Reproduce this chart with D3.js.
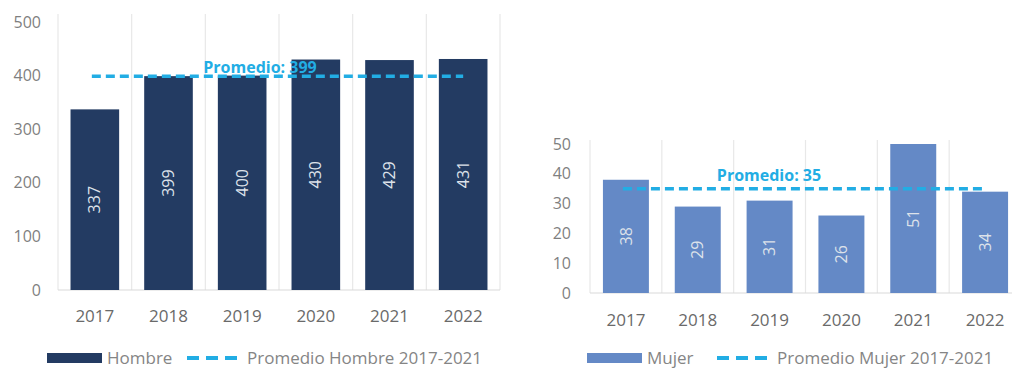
<!DOCTYPE html>
<html>
<head>
<meta charset="utf-8">
<script src="https://cdn.jsdelivr.net/npm/d3@7"></script>
<style>
  html, body { margin: 0; padding: 0; background: #fff; }
  svg { display: block; font-family: "Open Sans", sans-serif; }
</style>
</head>
<body>
<svg id="chart" width="1012" height="370"></svg>
<script>
const years = ["2017", "2018", "2019", "2020", "2021", "2022"];
const hombre = [337, 399, 400, 430, 429, 431];
const mujer = [38, 29, 31, 26, 51, 34];
const promHombre = 399;
const promMujer = 35;
const hombreTicks = [0, 100, 200, 300, 400, 500];
const mujerTicks = [0, 10, 20, 30, 40, 50];
const legendHombre = ["Hombre", "Promedio Hombre 2017-2021"];
const legendMujer = ["Mujer", "Promedio Mujer 2017-2021"];

const svg = d3.select("#chart");
const cyan = "#22ade4";
const gridCol = "#e8e8e8";
const tickCol = "#7f7f7f";

function drawPanel(cfg) {
  const g = svg.append("g");
  const x = d3.scaleBand().domain(years).range(cfg.xr).paddingInner(cfg.pad).paddingOuter(cfg.pad / 2);
  const y = d3.scaleLinear().domain(cfg.yd).range(cfg.yr).clamp(true);
  const step = x.step();
  const left = cfg.xr[0];

  // vertical gridlines at category boundaries
  g.selectAll(".vg").data(d3.range(years.length + 1)).join("line")
    .attr("x1", i => left + i * step).attr("x2", i => left + i * step)
    .attr("y1", cfg.gridTop).attr("y2", y(0))
    .attr("stroke", gridCol).attr("stroke-width", 1.2);
  // baseline
  g.append("line").attr("x1", left).attr("x2", cfg.xr[1]).attr("y1", y(0)).attr("y2", y(0))
    .attr("stroke", "#d9d9d9").attr("stroke-width", 1.2);

  // y tick labels
  g.selectAll(".yt").data(cfg.ticks).join("text")
    .attr("x", cfg.ytx).attr("y", d => y(d)).attr("dy", "0.35em")
    .attr("text-anchor", "end").attr("font-size", 16).attr("fill", tickCol)
    .text(d => d);

  // bars
  g.selectAll(".bar").data(cfg.values).join("rect")
    .attr("x", (d, i) => x(years[i])).attr("width", x.bandwidth())
    .attr("y", d => y(d)).attr("height", d => y(0) - y(d))
    .attr("fill", cfg.color);

  // bar labels rotated
  g.selectAll(".bl").data(cfg.values).join("text")
    .attr("transform", (d, i) => `translate(${x(years[i]) + x.bandwidth() / 2},${(y(d) + y(0)) / 2}) rotate(-90)`)
    .attr("text-anchor", "middle").attr("dy", "0.35em")
    .attr("font-size", 16).attr("fill", "#dde2ea")
    .text(d => d);

  // x labels
  g.selectAll(".xl").data(years).join("text")
    .attr("x", d => x(d) + x.bandwidth() / 2).attr("y", cfg.xly)
    .attr("text-anchor", "middle").attr("font-size", 17).attr("fill", "#6a6a6a")
    .text(d => d);

  // average dashed line
  const c0 = x(years[0]) + x.bandwidth() / 2;
  const c1 = x(years[years.length - 1]) + x.bandwidth() / 2;
  g.append("line").attr("x1", c0 - 3).attr("x2", c1)
    .attr("y1", y(cfg.avg)).attr("y2", y(cfg.avg))
    .attr("stroke", cyan).attr("stroke-width", 3.5).attr("stroke-dasharray", "9,5");
  g.append("text").attr("x", cfg.avgLabelX).attr("y", y(cfg.avg) - cfg.avgLabelDy)
    .attr("text-anchor", "middle").attr("font-size", 16).attr("font-weight", "bold")
    .attr("fill", cyan).text("Promedio: " + cfg.avg);

  // legend
  const lg = svg.append("g");
  const ly = cfg.legendY;
  lg.append("rect").attr("x", cfg.legX).attr("y", ly - 5).attr("width", 55).attr("height", 10).attr("fill", cfg.color);
  lg.append("text").attr("x", cfg.legX + 60).attr("y", ly).attr("dy", "0.35em")
    .attr("font-size", 17).attr("fill", "#858585").text(cfg.legend[0]);
  lg.append("line").attr("x1", cfg.legDashX).attr("x2", cfg.legDashX + 50).attr("y1", ly).attr("y2", ly)
    .attr("stroke", cyan).attr("stroke-width", 4).attr("stroke-dasharray", "12,7");
  lg.append("text").attr("x", cfg.legDashX + 60).attr("y", ly).attr("dy", "0.35em")
    .attr("font-size", 17).attr("fill", "#858585").text(cfg.legend[1]);
}

drawPanel({
  xr: [58, 500], pad: 0.34, yd: [0, 500], yr: [290, 22], gridTop: 14,
  ticks: hombreTicks, ytx: 41, values: hombre, color: "#233b62",
  xly: 322, avg: promHombre, avgLabelX: 260, avgLabelDy: 3,
  legendY: 358, legX: 47, legDashX: 187, legend: legendHombre
});

drawPanel({
  xr: [590, 1021], pad: 0.36, yd: [0, 50], yr: [293, 144], gridTop: 140,
  ticks: mujerTicks, ytx: 571, values: mujer, color: "#6489c6",
  xly: 326, avg: promMujer, avgLabelX: 769, avgLabelDy: 8,
  legendY: 358, legX: 587, legDashX: 717, legend: legendMujer
});
</script>
</body>
</html>
